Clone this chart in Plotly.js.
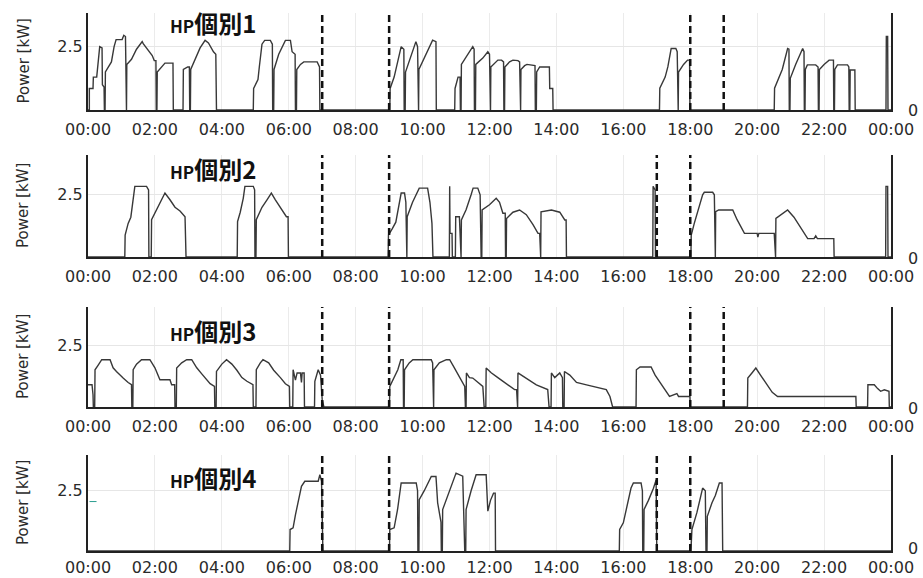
<!DOCTYPE html>
<html>
<head>
<meta charset="utf-8">
<script src="https://cdn.plot.ly/plotly-3.0.1.min.js"></script>
<style>html,body{margin:0;padding:0;background:#fff;}#chart{width:923px;height:578px;}</style>
</head>
<body>
<div id="chart"></div>
<script>
// ---- data (time in hours, power in kW) ----
const panelNames = ['HP個別1', 'HP個別2', 'HP個別3', 'HP個別4'];
const tickHours = [0, 2, 4, 6, 8, 10, 12, 14, 16, 18, 20, 22, 24];
const tickLabels = ['00:00','02:00','04:00','06:00','08:00','10:00','12:00','14:00','16:00','18:00','20:00','22:00','00:00'];
const yTickVals = [2.5];
const yTickText = ['2.5'];
const yMax = [3.83, 4.1, 4.08, 3.98];
const dashed1 = [7, 9, 18, 19];
const dashed2 = [7, 9, 17, 18];
const dashed3 = [7, 9, 18, 19];
const dashed4 = [7, 9, 17, 18];

const t1 = [0,0.04,0.04,0.15,0.16,0.26,0.35,0.42,0.43,0.48,0.49,0.51,0.52,0.6,0.7,0.78,0.84,1.02,1.07,1.12,1.13,1.15,1.16,1.3,1.45,1.62,1.65,1.8,1.92,1.98,2.03,2.04,2.06,2.07,2.2,2.3,2.54,2.55,2.84,2.85,2.98,3.03,3.04,3.06,3.07,3.2,3.35,3.5,3.6,3.75,3.82,3.84,4.94,4.95,5.08,5.12,5.2,5.28,5.45,5.51,5.52,5.55,5.56,5.7,5.8,5.9,6.05,6.1,6.19,6.2,6.23,6.24,6.35,6.45,6.85,6.92,6.93,9.02,9.03,9.15,9.36,9.44,9.45,9.48,9.49,9.6,9.8,9.85,9.86,9.88,9.89,10.0,10.3,10.4,10.41,10.96,10.97,11.06,11.12,11.13,11.15,11.16,11.3,11.5,11.54,11.55,11.58,11.59,11.8,11.9,11.95,12.0,12.01,12.03,12.04,12.15,12.25,12.36,12.42,12.43,12.45,12.46,12.6,12.7,12.85,12.9,12.91,12.93,12.94,13.05,13.12,13.3,13.36,13.37,13.4,13.41,13.5,13.79,13.8,13.89,13.9,17.08,17.09,17.25,17.33,17.43,17.57,17.61,17.62,17.64,17.65,17.8,17.92,17.98,17.99,20.51,20.52,20.66,20.75,20.91,20.95,20.96,20.98,20.99,21.15,21.36,21.4,21.41,21.43,21.44,21.5,21.75,21.82,21.83,21.85,21.86,22.0,22.15,22.28,22.29,22.31,22.32,22.4,22.7,22.74,22.75,22.77,22.78,22.92,22.93,23.85,23.86,23.9,23.91,24];
const p1 = [0,0,0.85,0.85,1.3,1.3,2.5,2.45,1.0,0.9,0,0,1.5,1.7,1.9,2.5,2.78,2.78,2.95,2.9,0,0,1.8,2.0,2.4,2.7,2.62,2.35,2.15,1.95,1.95,0,0,1.5,1.7,1.85,1.85,0,0,1.6,1.7,1.7,0,0,1.6,2.0,2.45,2.75,2.65,2.3,2.2,0,0,0.85,1.2,1.7,2.6,2.75,2.75,2.6,0,0,1.6,2.2,2.5,2.75,2.75,2.3,2.2,0,0,1.6,1.8,1.9,1.9,1.7,0,0,0.85,1.3,2.5,2.4,0,0,1.5,1.9,2.7,2.5,0,0,1.6,1.9,2.76,2.7,0,0,0.85,1.3,1.3,0,0,1.8,2.1,2.5,2.4,0,0,1.8,2.05,2.25,2.3,2.2,0,0,1.7,1.85,1.97,1.97,1.9,0,0,1.7,1.9,1.97,1.95,1.9,0,0,1.6,1.75,1.8,1.75,1.75,0,0,1.5,1.7,1.7,0.85,0.85,0,0,0.86,1.3,1.7,2.43,2.43,2.3,0,0,1.5,1.8,1.97,1.97,0,0,0.86,1.3,1.6,2.43,2.4,0,0,1.25,1.8,2.43,2.3,0,0,1.6,1.78,1.78,1.7,0,0,1.6,1.8,1.97,1.97,0,0,1.6,1.78,1.78,1.7,0,0,1.58,1.58,0,0,2.9,2.9,0,0];

const t2 = [0,1.1,1.11,1.2,1.28,1.35,1.4,1.75,1.81,1.82,1.89,1.9,2.05,2.2,2.3,2.45,2.6,2.75,2.9,2.93,4.46,4.47,4.55,4.64,4.69,4.94,4.98,4.99,5.02,5.03,5.2,5.35,5.48,5.6,5.75,5.85,5.93,5.98,5.99,8.97,8.98,9.1,9.2,9.36,9.46,9.5,9.51,9.53,9.54,9.7,9.9,10.15,10.22,10.28,10.31,10.8,10.81,10.82,10.88,10.89,10.98,10.99,11.1,11.13,11.15,11.16,11.3,11.45,11.51,11.65,11.72,11.75,11.77,11.78,12.0,12.2,12.3,12.4,12.47,12.48,12.5,12.51,12.7,12.9,13.1,13.3,13.45,13.5,13.51,13.53,13.54,13.85,14.1,14.25,14.29,14.3,16.88,16.89,16.95,16.96,18.02,18.03,18.12,18.25,18.37,18.42,18.67,18.72,18.73,18.75,18.76,18.85,19.27,19.4,19.62,20.0,20.02,20.05,20.51,20.53,20.55,20.56,20.75,20.91,21.1,21.3,21.51,21.7,21.75,21.8,22.29,22.3,23.84,23.85,23.9,23.91,24];
const p2 = [0,0,0.88,1.35,1.6,2.43,2.84,2.84,2.7,0,0,1.5,1.9,2.3,2.57,2.3,2.0,1.85,1.62,0,0,1.42,1.8,2.36,2.84,2.84,2.7,0,0,1.5,2.0,2.3,2.57,2.3,2.0,1.8,1.62,1.62,0,0,0.88,1.15,1.4,2.57,2.57,2.2,0,0,1.62,2.2,2.77,2.77,2.2,1.35,0,0,2.84,0.95,0.95,0,0,1.62,1.62,0,0,1.49,1.9,2.5,2.77,2.77,2.5,0,0,1.89,2.1,2.36,2.2,1.76,1.76,0,0,1.55,1.8,1.89,1.7,1.3,0.95,0.95,0,0,1.82,1.89,1.8,1.49,1.49,0,0,2.84,2.7,0,0,0.88,1.35,2.0,2.5,2.6,2.6,2.5,0,0,1.82,1.89,1.89,1.5,0.95,0.95,0.8,0.95,0.95,0,0,1.55,1.75,1.89,1.6,1.2,0.74,0.74,0.85,0.74,0.74,0,0,2.84,2.84,0,0];

const t3 = [0,0.12,0.15,0.16,0.2,0.21,0.3,0.41,0.66,0.75,0.85,0.95,1.05,1.2,1.3,1.31,1.34,1.35,1.45,1.6,1.85,2.0,2.1,2.15,2.45,2.5,2.59,2.6,2.64,2.65,2.8,2.95,3.1,3.25,3.4,3.55,3.65,3.78,3.79,3.83,3.84,4.0,4.14,4.3,4.45,4.6,4.75,4.93,4.94,5.02,5.03,5.15,5.23,5.4,5.55,5.75,5.9,6.02,6.03,6.12,6.13,6.2,6.25,6.35,6.38,6.4,6.46,6.47,6.77,6.78,6.88,6.95,6.98,7.0,7.05,9.01,9.02,9.15,9.26,9.35,9.42,9.43,9.45,9.46,9.6,9.71,10.26,10.3,10.31,10.33,10.34,10.5,10.71,10.81,10.95,11.1,11.26,11.28,11.3,11.31,11.4,11.5,11.65,11.8,11.84,11.89,11.9,12.05,12.25,12.5,12.75,12.81,12.82,12.84,12.85,12.95,13.15,13.4,13.74,13.78,13.84,13.85,13.95,14.1,14.18,14.19,14.23,14.24,14.4,14.6,14.9,15.2,15.49,15.6,15.68,16.38,16.39,16.5,16.83,16.95,17.1,17.25,17.38,17.6,17.65,17.99,18.0,19.71,19.72,19.85,19.96,20.1,20.3,20.45,20.61,22.95,22.96,23.3,23.31,23.5,23.6,23.69,23.8,23.94,23.95,24];
const p3 = [0.91,0.91,0.5,0,0,1.52,1.7,1.93,1.93,1.6,1.45,1.3,1.18,1.0,0.91,0,0,1.52,1.75,1.93,1.93,1.6,1.3,1.11,1.11,0.91,0.91,0,0,1.59,1.8,1.93,1.93,1.6,1.35,1.1,0.95,0.84,0,0,1.45,1.75,1.93,1.75,1.5,1.2,1.05,0.91,0,0,1.52,1.8,1.93,1.8,1.5,1.2,0.95,0.84,0,0,1.52,1.1,1.39,1.39,1.0,1.39,1.39,0,0,1.05,1.52,1.3,0.5,0.3,0,0,0.84,1.2,1.52,1.93,1.93,0,0,1.52,1.8,1.93,1.93,1.8,0,0,1.52,1.8,1.93,1.93,1.6,1.2,0.84,0,0,1.39,1.2,1.18,1.0,0.84,0,0,1.59,1.4,1.2,0.95,0.71,0.71,0,0,1.39,1.3,1.1,0.9,0.71,0,0,1.39,1.2,1.39,1.2,0,0,1.45,1.3,1.0,0.9,0.8,0.71,0.43,0,0,1.52,1.63,1.63,1.3,1.0,0.7,0.43,0.55,0.43,0.43,0,0,1.18,1.4,1.59,1.3,0.9,0.6,0.43,0.43,0,0,0.91,0.91,0.75,0.64,0.7,0.64,0,0];

const t4 = [0,6.03,6.04,6.13,6.2,6.3,6.38,6.48,6.88,6.93,6.98,7.02,9.01,9.02,9.15,9.25,9.36,9.81,9.85,9.86,9.89,9.9,10.05,10.26,10.4,10.45,10.55,10.56,10.59,10.6,10.75,11.0,11.2,11.26,11.29,11.3,11.45,11.6,11.9,11.95,12.03,12.12,12.17,12.18,15.88,15.89,16.0,16.1,16.23,16.3,16.53,16.57,16.58,16.61,16.62,16.75,16.9,16.98,17.0,18.02,18.05,18.2,18.37,18.45,18.47,18.5,18.51,18.65,18.75,18.87,18.95,18.97,24];
const p4 = [0,0,0.89,0.96,1.5,2.2,2.68,2.89,2.89,3.16,2.9,0,0,0.89,0.96,1.7,2.82,2.82,2.5,0,0,2.13,2.5,3.09,3.09,2.0,1.2,0,0,1.72,2.3,3.23,3.1,0,0,1.72,2.5,3.16,3.16,1.65,2.1,2.4,2.4,0,0,0.89,1.17,1.8,2.61,2.82,2.82,2.5,0,0,1.72,2.1,2.6,2.95,0,0,0.89,1.6,2.61,2.5,0,0,1.44,2.0,2.3,2.82,2.82,0,0];
const teal4T = [0.15];
const teal4V = [2.05];

const seriesT = [t1, t2, t3, t4];
const seriesP = [p1, p2, p3, p4];
const dashedAll = [dashed1, dashed2, dashed3, dashed4];

// ---- layout geometry (pixels in a 923x578 page) ----
const W = 923, H = 578;
const plotLeft = 88, plotRight = 891;
const panelTop = [13, 155, 307, 455];
const panelBottom = [110, 257, 407, 551];
const titleY = [22, 168, 330, 477];
const tickGap = [4, 4, 4, 1];
const zeroLabelOffset = [1, 1, 1, -3];

const traces = [];
const layout = {
  width: W, height: H,
  margin: {l: 0, r: 0, t: 0, b: 0},
  paper_bgcolor: '#fff', plot_bgcolor: '#fff',
  showlegend: false,
  shapes: [], annotations: []
};
const xd = [plotLeft / W, plotRight / W];

for (let i = 0; i < 4; i++) {
  const n = i === 0 ? '' : String(i + 1);
  traces.push({
    x: seriesT[i], y: seriesP[i], xaxis: 'x' + n, yaxis: 'y' + n,
    type: 'scatter', mode: 'lines',
    line: {color: '#383838', width: 1.4},
    hoverinfo: 'skip'
  });
  layout['xaxis' + n] = {
    domain: xd, anchor: 'y' + n, range: [0, 24],
    tickmode: 'array', tickvals: tickHours, ticktext: tickLabels,
    showgrid: true, gridcolor: '#ebebeb', gridwidth: 1,
    showline: true, linecolor: '#222', linewidth: 2,
    zeroline: false, ticks: 'outside', ticklen: tickGap[i], tickcolor: 'rgba(0,0,0,0)',
    automargin: false,
    tickfont: {family: 'DejaVu Sans', size: 16, color: '#2a2a2a'}
  };
  layout['yaxis' + n] = {
    domain: [1 - panelBottom[i] / H, 1 - panelTop[i] / H], anchor: 'x' + n,
    range: [0, yMax[i]],
    tickmode: 'array', tickvals: yTickVals, ticktext: yTickText,
    showgrid: true, gridcolor: '#e6e6e6', gridwidth: 1,
    showline: true, mirror: true, linecolor: '#222', linewidth: 2,
    zeroline: false, ticks: '', automargin: false,
    tickfont: {family: 'DejaVu Sans', size: 16, color: '#2a2a2a'}
  };
  dashedAll[i].forEach(h => {
    layout.shapes.push({
      type: 'line', xref: 'x' + n, yref: 'y' + n + ' domain',
      x0: h, x1: h, y0: 0, y1: 1,
      line: {color: '#111', width: 2.5, dash: '7px,4px'}
    });
  });
  layout.annotations.push({
    text: '<span style="font-size:17px">HP</span>個別' + (i + 1),
    xref: 'paper', yref: 'paper', x: 213 / W, y: 1 - titleY[i] / H,
    xanchor: 'center', yanchor: 'middle', showarrow: false,
    font: {family: 'Noto Sans CJK JP', size: 24, color: '#111', weight: 'bold'}
  });
  layout.annotations.push({
    text: '0', xref: 'paper', yref: 'paper', x: 913 / W,
    y: 1 - (panelBottom[i] + zeroLabelOffset[i]) / H,
    xanchor: 'center', yanchor: 'middle', showarrow: false,
    font: {family: 'DejaVu Sans', size: 16, color: '#2a2a2a'}
  });
  layout.annotations.push({
    text: 'Power [kW]', xref: 'paper', yref: 'paper', x: 23 / W,
    y: 1 - (panelTop[i] + panelBottom[i]) / 2 / H,
    xanchor: 'center', yanchor: 'middle', textangle: -90, showarrow: false,
    font: {family: 'DejaVu Sans', size: 15, color: '#2a2a2a'}
  });
}
traces.push({
  x: teal4T, y: teal4V, xaxis: 'x4', yaxis: 'y4', type: 'scatter', mode: 'markers',
  marker: {symbol: 'line-ew', size: 5, line: {color: '#2a9d8f', width: 1}},
  hoverinfo: 'skip'
});

Plotly.newPlot('chart', traces, layout, {staticPlot: true});
</script>
</body>
</html>
